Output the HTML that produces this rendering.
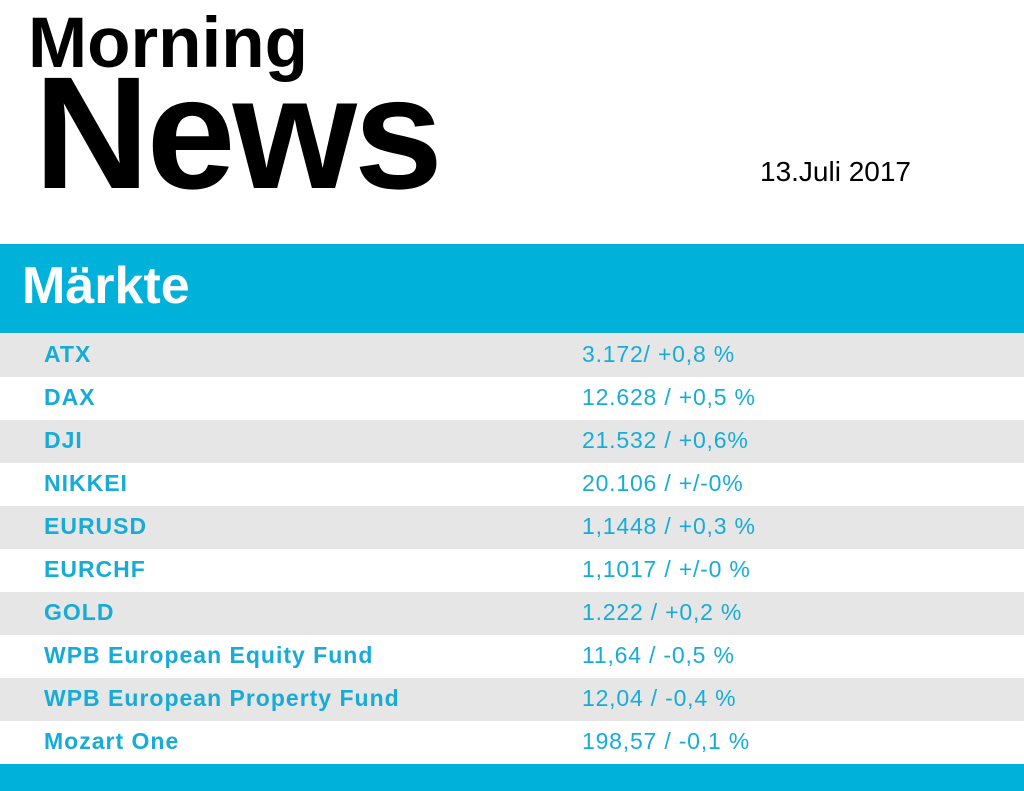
<!DOCTYPE html>
<html><head><style>
body{margin:0;width:1024px;height:791px;overflow:hidden;background:#fff;font-family:"Liberation Sans",Arial,sans-serif;position:relative}
.a{position:absolute;white-space:nowrap;line-height:1}
.row{position:absolute;left:0;width:1024px;height:43px}
.row span{position:absolute;top:9px;font-size:23px;line-height:1;color:#17acd8;white-space:nowrap}
.n{left:44px;font-weight:bold;letter-spacing:1px}
.v{left:582px;letter-spacing:0.8px}
</style></head><body>
<div class="a" style="left:28px;top:8px;font-size:71px;font-weight:bold">Morning</div>
<div class="a" style="left:34px;top:53px;font-size:160px;font-weight:bold;letter-spacing:-3px">News</div>
<div class="a" style="left:760px;top:158px;font-size:28px">13.Juli 2017</div>
<div class="a" style="left:0;top:244px;width:1024px;height:89px;background:#00b1da"></div>
<div class="a" style="left:22px;top:260px;font-size:52px;font-weight:bold;color:#fff">Märkte</div>
<div class="row" style="top:334px;background:#e6e6e6"><span class="n">ATX</span><span class="v">3.172/ +0,8 %</span></div>
<div class="row" style="top:377px"><span class="n">DAX</span><span class="v">12.628 / +0,5 %</span></div>
<div class="row" style="top:420px;background:#e6e6e6"><span class="n">DJI</span><span class="v">21.532 / +0,6%</span></div>
<div class="row" style="top:463px"><span class="n">NIKKEI</span><span class="v">20.106 / +/-0%</span></div>
<div class="row" style="top:506px;background:#e6e6e6"><span class="n">EURUSD</span><span class="v">1,1448 / +0,3 %</span></div>
<div class="row" style="top:549px"><span class="n">EURCHF</span><span class="v">1,1017 / +/-0 %</span></div>
<div class="row" style="top:592px;background:#e6e6e6"><span class="n">GOLD</span><span class="v">1.222 / +0,2 %</span></div>
<div class="row" style="top:635px"><span class="n">WPB European Equity Fund</span><span class="v">11,64 / -0,5 %</span></div>
<div class="row" style="top:678px;background:#e6e6e6"><span class="n">WPB European Property Fund</span><span class="v">12,04 / -0,4 %</span></div>
<div class="row" style="top:721px"><span class="n">Mozart One</span><span class="v">198,57 / -0,1 %</span></div>
<div class="a" style="left:0;top:764px;width:1024px;height:27px;background:#00b1da;overflow:hidden">
<div class="a" style="left:22px;top:23px;font-size:52px;font-weight:bold;color:#fff">Top News &amp; Unternehmen</div></div>
</body></html>
